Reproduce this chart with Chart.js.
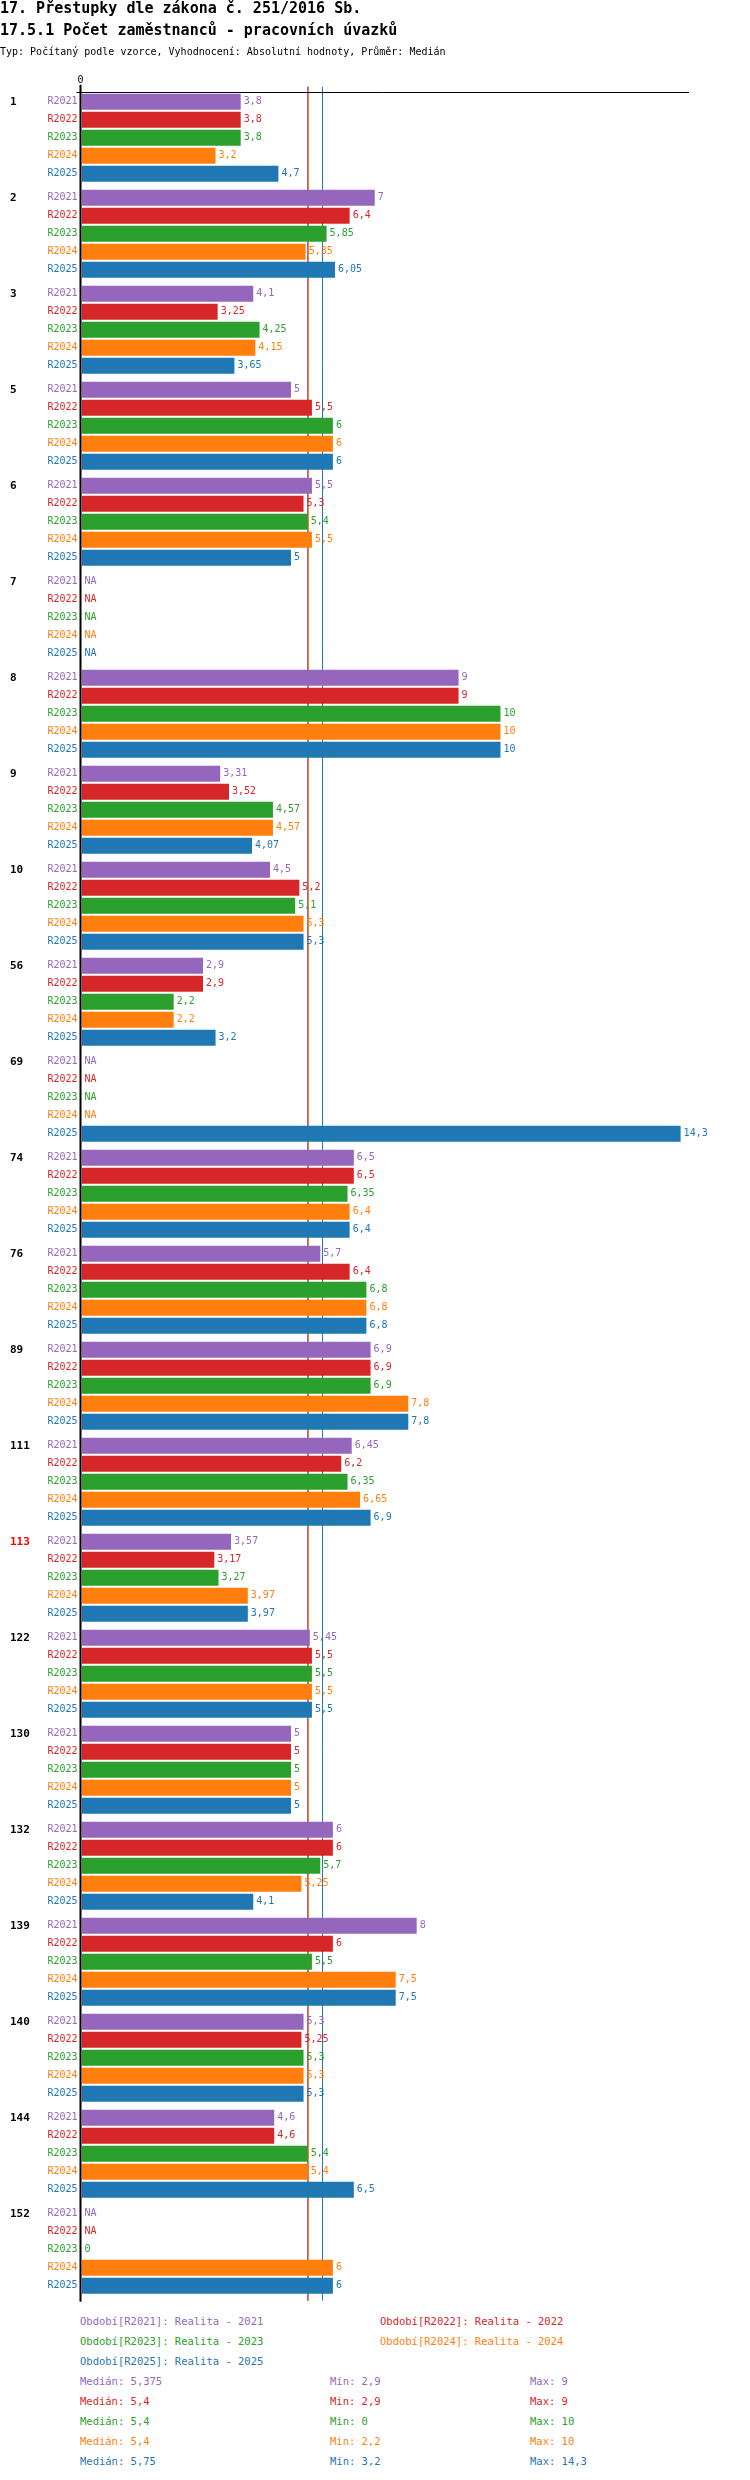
<!DOCTYPE html>
<html>
<head>
<meta charset="utf-8">
<script src="https://cdn.jsdelivr.net/npm/chart.js@4.4.1/dist/chart.umd.min.js"></script>
<style>
  body { margin: 0; background: #fff; font-family: "DejaVu Sans Mono", monospace; }
  #page { position: relative; width: 750px; height: 2480px; overflow: hidden; }
  #wrap { position: absolute; left: 0; top: 0; width: 750px; height: 2310px; }
  .t { position: absolute; white-space: pre; line-height: 1; }
  .h1 { font-size: 15px; font-weight: bold; color: #000; }
  .sub { font-size: 10px; color: #000; }
  .lg { font-size: 10.5px; }
</style>
</head>
<body>
<div id="page">
  <div id="wrap"><canvas id="chart"></canvas></div>
  <div class="t h1" style="left:0;top:1px">17. Přestupky dle zákona č. 251/2016 Sb.</div>
  <div class="t h1" style="left:0;top:23px">17.5.1 Počet zaměstnanců - pracovních úvazků</div>
  <div class="t sub" style="left:0;top:47px">Typ: Počítaný podle vzorce, Vyhodnocení: Absolutní hodnoty, Průměr: Medián</div>
  <div id="legend"></div>
</div>
<script>
// groups (rows) and the five periods
const groups = ['1', '2', '3', '5', '6', '7', '8', '9', '10', '56', '69', '74', '76', '89',
  '111', '113', '122', '130', '132', '139', '140', '144', '152'];
const highlighted = ['113'];
const periods = ['R2021', 'R2022', 'R2023', 'R2024', 'R2025'];
const periodNames = ['Realita - 2021', 'Realita - 2022', 'Realita - 2023', 'Realita - 2024', 'Realita - 2025'];
const colors = ['#9467bd', '#d62728', '#2ca02c', '#ff7f0e', '#1f77b4'];

const r2021 = [3.8, 7, 4.1, 5, 5.5, null, 9, 3.31, 4.5, 2.9, null, 6.5, 5.7, 6.9, 6.45, 3.57, 5.45, 5, 6, 8, 5.3, 4.6, null];
const r2022 = [3.8, 6.4, 3.25, 5.5, 5.3, null, 9, 3.52, 5.2, 2.9, null, 6.5, 6.4, 6.9, 6.2, 3.17, 5.5, 5, 6, 6, 5.25, 4.6, null];
const r2023 = [3.8, 5.85, 4.25, 6, 5.4, null, 10, 4.57, 5.1, 2.2, null, 6.35, 6.8, 6.9, 6.35, 3.27, 5.5, 5, 5.7, 5.5, 5.3, 5.4, 0];
const r2024 = [3.2, 5.35, 4.15, 6, 5.5, null, 10, 4.57, 5.3, 2.2, null, 6.4, 6.8, 7.8, 6.65, 3.97, 5.5, 5, 5.25, 7.5, 5.3, 5.4, 6];
const r2025 = [4.7, 6.05, 3.65, 6, 5, null, 10, 4.07, 5.3, 3.2, 14.3, 6.4, 6.8, 7.8, 6.9, 3.97, 5.5, 5, 4.1, 7.5, 5.3, 6.5, 6];
const series = [r2021, r2022, r2023, r2024, r2025];

// summary shown under the chart
const medians = [5.375, 5.4, 5.4, 5.4, 5.75];
const mins = [2.9, 2.9, 0, 2.2, 3.2];
const maxs = [9, 9, 10, 10, 14.3];

function fmt(v) {
  return v === null ? 'NA' : String(v).replace('.', ',');
}

// medians behind the bars
const medianPlugin = {
  id: 'medianLines',
  beforeDatasetsDraw(chart) {
    const ctx = chart.ctx, a = chart.chartArea, xs = chart.scales.x;
    ctx.save();
    ctx.lineWidth = 1;
    medians.forEach((m, i) => {
      const x = Math.round(xs.getPixelForValue(m)) + 0.5;
      ctx.strokeStyle = colors[i];
      ctx.beginPath();
      ctx.moveTo(x, a.top - 3);
      ctx.lineTo(x, a.bottom + 3);
      ctx.stroke();
    });
    ctx.restore();
  }
};

// axis lines and all text labels
const labelPlugin = {
  id: 'barLabels',
  afterDatasetsDraw(chart) {
    const ctx = chart.ctx, a = chart.chartArea, xs = chart.scales.x;
    const x0 = xs.getPixelForValue(0);
    ctx.save();
    ctx.strokeStyle = '#000';
    ctx.lineWidth = 1;
    ctx.beginPath();
    ctx.moveTo(x0 - 5, Math.round(a.top + 2) + 0.5);
    ctx.lineTo(a.right, Math.round(a.top + 2) + 0.5);
    ctx.stroke();
    ctx.lineWidth = 2;
    ctx.beginPath();
    ctx.moveTo(x0 - 1, a.top - 5);
    ctx.lineTo(x0 - 1, a.bottom + 4);
    ctx.stroke();

    ctx.font = '10px "DejaVu Sans Mono"';
    ctx.textBaseline = 'middle';
    ctx.fillStyle = '#000';
    ctx.textAlign = 'center';
    ctx.fillText('0', x0 - 1, a.top - 9);

    chart.data.datasets.forEach((ds, di) => {
      const meta = chart.getDatasetMeta(di);
      meta.data.forEach((el, i) => {
        const v = ds.data[i];
        const y = el.y;
        ctx.fillStyle = colors[di];
        ctx.textAlign = 'right';
        ctx.fillText(periods[di], x0 - 4, y);
        ctx.textAlign = 'left';
        const xe = v === null ? x0 : xs.getPixelForValue(v);
        ctx.fillText(fmt(v), xe + 3, y);
      });
    });

    const first = chart.getDatasetMeta(0);
    ctx.font = 'bold 11px "DejaVu Sans Mono"';
    ctx.textAlign = 'left';
    first.data.forEach((el, i) => {
      ctx.fillStyle = highlighted.includes(groups[i]) ? '#ff0000' : '#000';
      ctx.fillText(groups[i], 10, el.y);
    });
    ctx.restore();
  }
};

const chart = new Chart(document.getElementById('chart'), {
  type: 'bar',
  data: {
    labels: groups,
    datasets: series.map((d, i) => ({
      label: periods[i],
      data: d,
      backgroundColor: colors[i],
      borderWidth: 0,
      barPercentage: 16 / 18,
      categoryPercentage: 90 / 96
    }))
  },
  options: {
    indexAxis: 'y',
    responsive: true,
    maintainAspectRatio: false,
    animation: false,
    layout: { padding: { left: 81.5, right: 61, top: 89.7, bottom: 12.3 } },
    scales: {
      x: { type: 'linear', min: 0, max: 14.5, display: false },
      y: { display: false }
    },
    plugins: { legend: { display: false }, tooltip: { enabled: false } }
  },
  plugins: [medianPlugin, labelPlugin]
});

// legend and summary rows
const legend = document.getElementById('legend');
function addText(txt, x, y, color) {
  const d = document.createElement('div');
  d.className = 't lg';
  d.style.left = x + 'px';
  d.style.top = (y - 6) + 'px';
  d.style.color = color;
  d.textContent = txt;
  legend.appendChild(d);
}
periods.forEach((p, i) => {
  const row = Math.floor(i / 2), col = i % 2;
  addText('Období[' + p + ']: ' + periodNames[i], col ? 380 : 80, 2322 + row * 20, colors[i]);
});
periods.forEach((p, i) => {
  const y = 2382 + i * 20;
  addText('Medián: ' + fmt(medians[i]), 80, y, colors[i]);
  addText('Min: ' + fmt(mins[i]), 330, y, colors[i]);
  addText('Max: ' + fmt(maxs[i]), 530, y, colors[i]);
});
</script>
</body>
</html>
